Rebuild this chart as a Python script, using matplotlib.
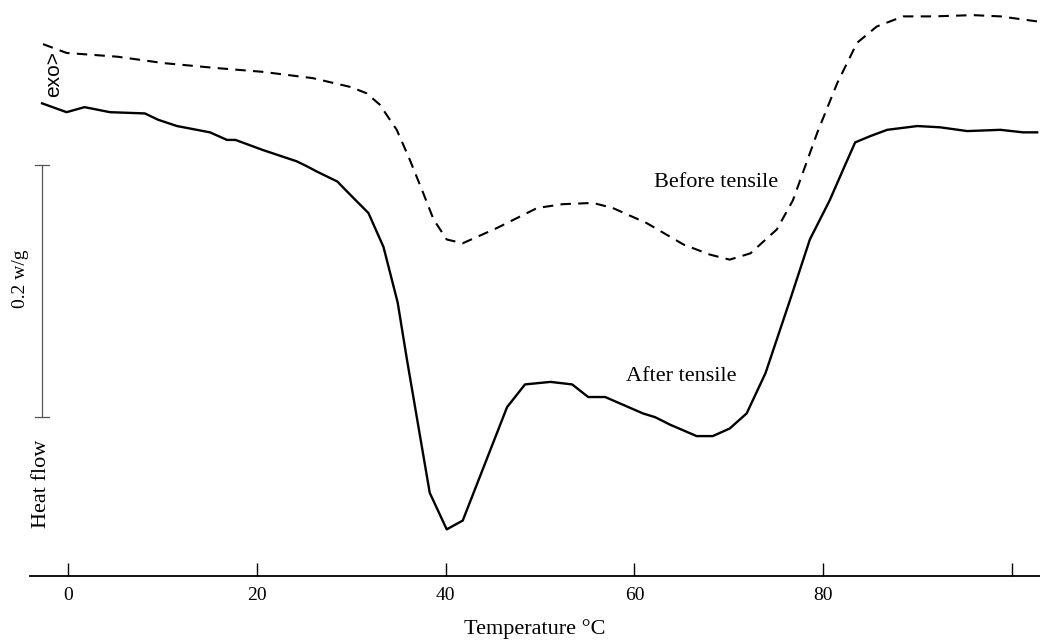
import matplotlib
matplotlib.use("Agg")
import matplotlib.pyplot as plt

# DSC traces: temperature (deg C) vs heat flow (W/g, arbitrary offset)
after_T = [-2.8, -0.2, 1.7, 4.4, 8.1, 9.5, 11.5, 15.0, 16.8, 17.7, 20.6, 24.2, 25.3,
           26.3, 28.5, 30.2, 31.8, 33.4, 34.9, 35.9, 38.3, 40.1, 41.8, 46.5, 48.4,
           51.1, 53.4, 55.1, 56.9, 60.9, 62.2, 63.8, 66.6, 68.3, 70.1, 71.9, 73.9,
           76.5, 78.6, 80.7, 82.1, 83.4, 85.0, 86.8, 90.0, 92.4, 95.3, 98.8, 101.2, 102.7]
after_hf = [0.375, 0.368, 0.372, 0.368, 0.367, 0.362, 0.357, 0.352, 0.346, 0.346,
            0.338, 0.329, 0.325, 0.321, 0.313, 0.300, 0.288, 0.261, 0.217, 0.171,
            0.066, 0.037, 0.044, 0.134, 0.152, 0.154, 0.152, 0.142, 0.142, 0.129,
            0.126, 0.120, 0.111, 0.111, 0.117, 0.129, 0.161, 0.219, 0.267, 0.298,
            0.322, 0.344, 0.349, 0.354, 0.357, 0.356, 0.353, 0.354, 0.352, 0.352]

before_T = [-2.7, -0.2, 5.2, 8.1, 10.0, 15.7, 20.6, 25.9, 29.9, 31.6, 33.0, 34.8,
            36.2, 37.6, 38.7, 40.1, 41.8, 45.4, 49.7, 52.4, 55.6, 57.7, 61.3, 65.2,
            68.0, 70.1, 72.3, 75.1, 76.8, 79.4, 81.5, 83.6, 85.7, 88.5, 91.7, 95.9,
            98.8, 102.7]
before_hf = [0.422, 0.415, 0.412, 0.409, 0.407, 0.403, 0.400, 0.395, 0.388, 0.383,
             0.374, 0.354, 0.330, 0.304, 0.283, 0.267, 0.264, 0.276, 0.292, 0.295,
             0.296, 0.292, 0.280, 0.263, 0.255, 0.251, 0.256, 0.275, 0.298, 0.352,
             0.391, 0.423, 0.436, 0.444, 0.444, 0.445, 0.444, 0.440]

xticks = [0, 20, 40, 60, 80, 100]
xtick_labels = ["0", "20", "40", "60", "80", ""]
scale_bar = (0.126, 0.326)  # 0.2 W/g

serif = "Liberation Serif"

fig = plt.figure(figsize=(10.4, 6.43), dpi=100)
ax = fig.add_axes([30 / 1040, 67 / 643, 1010 / 1040, 576 / 643])
ax.set_xlim(-4.08, 103.0)
ax.set_ylim(0, 0.457)

ax.plot(after_T, after_hf, color="black", lw=1.7)
ax.plot(before_T, before_hf, color="black", lw=1.5, dashes=(5, 3.5))

for s in ["top", "right", "left"]:
    ax.spines[s].set_visible(False)
ax.spines["bottom"].set_linewidth(1.3)
ax.set_yticks([])
ax.set_xticks(xticks)
ax.set_xticklabels(xtick_labels, fontfamily=serif, fontsize=14)
ax.tick_params(axis="x", direction="in", length=9.5, width=1.0, pad=8)
ax.set_xlabel("Temperature \u00b0C", fontfamily=serif, fontsize=16, labelpad=11)

# scale bar
bx = -2.8
ax.plot([bx, bx], scale_bar, color="#555555", lw=0.9, clip_on=False)
for yb in scale_bar:
    ax.plot([bx - 0.7, bx + 0.7], [yb, yb], color="#555555", lw=0.9, clip_on=False)

ax.text(-5.1, 0.236, "0.2 w/g", rotation=90, ha="center", va="center",
        fontfamily=serif, fontsize=14, clip_on=False)
ax.text(-2.9, 0.073, "Heat flow", rotation=90, ha="center", va="center",
        fontfamily=serif, fontsize=16, clip_on=False)
ax.text(-1.6, 0.398, "exo>", rotation=90, ha="center", va="center",
        fontfamily="Liberation Sans", fontsize=15)

ax.text(68.7, 0.312, "Before tensile", ha="center", va="center",
        fontfamily=serif, fontsize=16)
ax.text(65.0, 0.158, "After tensile", ha="center", va="center",
        fontfamily=serif, fontsize=16)

fig.savefig("out.png", dpi=100)
